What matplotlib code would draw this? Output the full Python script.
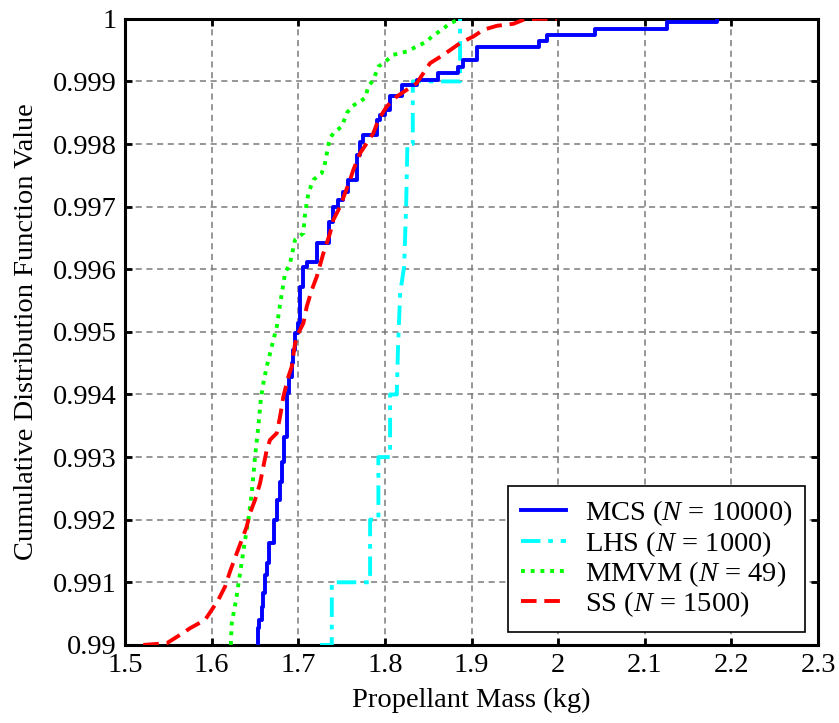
import matplotlib
matplotlib.use("Agg")
import matplotlib.pyplot as plt

plt.rcParams['font.family'] = ['Liberation Serif', 'DejaVu Serif']
plt.rcParams['mathtext.fontset'] = 'custom'
plt.rcParams['mathtext.rm'] = 'Liberation Serif'
plt.rcParams['mathtext.it'] = 'Liberation Serif:italic'

# MCS (N = 10000) - empirical CDF, drawn as stairs
mcs_x = [1.6539, 1.6539, 1.6551, 1.6579, 1.6597, 1.6617, 1.6636, 1.6666, 1.6721, 1.6752,
         1.6790, 1.6809, 1.6836, 1.6867, 1.6897, 1.6925, 1.6943, 1.6963, 1.6994, 1.7021,
         1.7059, 1.7098, 1.7214, 1.7356, 1.7405, 1.7463, 1.7521, 1.7579, 1.7676, 1.7714,
         1.7752, 1.7906, 1.7945, 1.8002, 1.8060, 1.8195, 1.8368, 1.8614, 1.8845, 1.8900,
         1.9061, 1.9781, 1.9870, 2.0427, 2.1255, 2.1839]
mcs_y = [0.99, 0.990267, 0.990399, 0.990612, 0.990831, 0.991118, 0.991305, 0.991625, 0.991997, 0.992316,
         0.992609, 0.992928, 0.993328, 0.994021, 0.994286, 0.994500, 0.994712, 0.994979, 0.995139, 0.995724,
         0.996043, 0.996123, 0.996417, 0.996762, 0.997002, 0.997109, 0.997241, 0.997428, 0.997827, 0.998040,
         0.998147, 0.998387, 0.998466, 0.998546, 0.998759, 0.998946, 0.999026, 0.999133, 0.999238, 0.999345,
         0.999542, 0.999638, 0.999744, 0.999835, 0.999941, 1.0]

# LHS (N = 1000)
lhs_x = [1.7252, 1.7387, 1.7387, 1.7829, 1.7829, 1.7925, 1.7925, 1.8060, 1.8060, 1.8137,
         1.8152, 1.8176, 1.8222, 1.8245, 1.8260, 1.8322, 1.8322, 1.8868, 1.8868]
lhs_y = [0.990, 0.990, 0.991, 0.991, 0.992, 0.992, 0.993, 0.993, 0.994, 0.994,
         0.99477, 0.99562, 0.99604, 0.997, 0.998, 0.998, 0.999, 0.999, 1.0]

# MMVM (N = 49)
mmvm_x = [1.6221, 1.6232, 1.6282, 1.6328, 1.6386, 1.6424, 1.6463, 1.6501, 1.6539, 1.6567,
          1.6597, 1.6636, 1.6694, 1.6752, 1.6798, 1.6848, 1.6905, 1.6963, 1.7059, 1.7079,
          1.7117, 1.7174, 1.7271, 1.7309, 1.7359, 1.7405, 1.7502, 1.7560, 1.7618, 1.7714,
          1.7771, 1.7809, 1.7867, 1.7925, 1.7983, 1.8098, 1.8253, 1.8368, 1.8484, 1.8541,
          1.8657, 1.8753, 1.8849]
mmvm_y = [0.99, 0.990347, 0.990719, 0.991145, 0.991677, 0.991997, 0.992423, 0.993008, 0.993487, 0.993914,
          0.994180, 0.994446, 0.994765, 0.995085, 0.995511, 0.995938, 0.996097, 0.996470, 0.996577, 0.996896,
          0.997216, 0.997428, 0.997535, 0.997695, 0.998067, 0.998174, 0.998280, 0.998494, 0.998601, 0.998681,
          0.998735, 0.998919, 0.999026, 0.999238, 0.999291, 0.999425, 0.999478, 0.999558, 0.999637, 0.999717,
          0.999824, 0.999931, 0.999984]

# SS (N = 1500)
ss_x = [1.5211, 1.5482, 1.5635, 1.5751, 1.5924, 1.6001, 1.6077, 1.6155, 1.6212, 1.6290,
        1.6348, 1.6405, 1.6443, 1.6501, 1.6559, 1.6597, 1.6636, 1.6674, 1.6752, 1.6790,
        1.6828, 1.6886, 1.6925, 1.6963, 1.7001, 1.7059, 1.7098, 1.7156, 1.7214, 1.7290,
        1.7367, 1.7405, 1.7483, 1.7540, 1.7598, 1.7636, 1.7714, 1.7791, 1.7867, 1.7925,
        1.8022, 1.8137, 1.8253, 1.8368, 1.8522, 1.8676, 1.8868, 1.9022, 1.9137, 1.9292,
        1.9484, 1.9599, 1.9754, 1.9985]
ss_y = [0.99, 0.990027, 0.990160, 0.990267, 0.990399, 0.990559, 0.990719, 0.990931, 0.991171, 0.991465,
        0.991677, 0.991890, 0.992104, 0.992316, 0.992583, 0.992848, 0.993115, 0.993275, 0.993382, 0.993647,
        0.993966, 0.994286, 0.994446, 0.994819, 0.994979, 0.995139, 0.995404, 0.995671, 0.995883, 0.996256,
        0.996577, 0.996789, 0.997002, 0.997216, 0.997428, 0.997588, 0.997854, 0.998014, 0.998174, 0.998387,
        0.998601, 0.998759, 0.998866, 0.998973, 0.999292, 0.999425, 0.999612, 0.999718, 0.999824, 0.999888,
        0.999920, 0.999984, 1.0, 1.0]

xticks = [1.5, 1.6, 1.7, 1.8, 1.9, 2.0, 2.1, 2.2, 2.3]
xticklabels = ['1.5', '1.6', '1.7', '1.8', '1.9', '2', '2.1', '2.2', '2.3']
yticks = [0.99, 0.991, 0.992, 0.993, 0.994, 0.995, 0.996, 0.997, 0.998, 0.999, 1.0]
yticklabels = ['0.99', '0.991', '0.992', '0.993', '0.994', '0.995', '0.996',
               '0.997', '0.998', '0.999', '1']

fs = 20.5

fig = plt.figure(figsize=(8.39, 7.23), dpi=100)
ax = fig.add_axes([0.149, 0.108, 0.826, 0.866])

ax.plot(mcs_x, mcs_y, color='#0000ff', lw=2.8, drawstyle='steps-post',
        label=r'MCS ($N$ = 10000)', zorder=5)
ax.plot(lhs_x, lhs_y, color='#00ffff', lw=2.8, linestyle=(0, (5, 2, 1.2, 2)),
        label=r'LHS ($N$ = 1000)', zorder=4)
ax.plot(mmvm_x, mmvm_y, color='#00ff00', lw=2.8, linestyle=(0, (1, 1.5)),
        label=r'MMVM ($N$ = 49)', zorder=3)
ax.plot(ss_x, ss_y, color='#ff0000', lw=2.8, linestyle=(0, (4, 2)),
        label=r'SS ($N$ = 1500)', zorder=6)

ax.set_xlim(1.5, 2.3)
ax.set_ylim(0.99, 1.0)
ax.set_xticks(xticks)
ax.set_xticklabels(xticklabels)
ax.set_yticks(yticks)
ax.set_yticklabels(yticklabels)
ax.tick_params(direction='in', top=True, right=True, length=5, width=2,
               labelsize=fs, pad=6)
ax.grid(True, color='#7a7a7a', linestyle=(0, (4, 3)), lw=1.1)
for s in ax.spines.values():
    s.set_linewidth(2.2)

ax.set_xlabel('Propellant Mass (kg)', fontsize=fs, labelpad=7)
ax.set_ylabel('Cumulative Distribution Function Value', fontsize=fs, labelpad=10)

leg = ax.legend(loc='lower right', fontsize=fs, frameon=True, fancybox=False,
                framealpha=1, edgecolor='black', handlelength=1.6,
                labelspacing=0.02, borderaxespad=0.45, borderpad=0.45,
                handletextpad=0.65)
leg.get_frame().set_linewidth(1.2)

fig.savefig('out.png', dpi=100)
